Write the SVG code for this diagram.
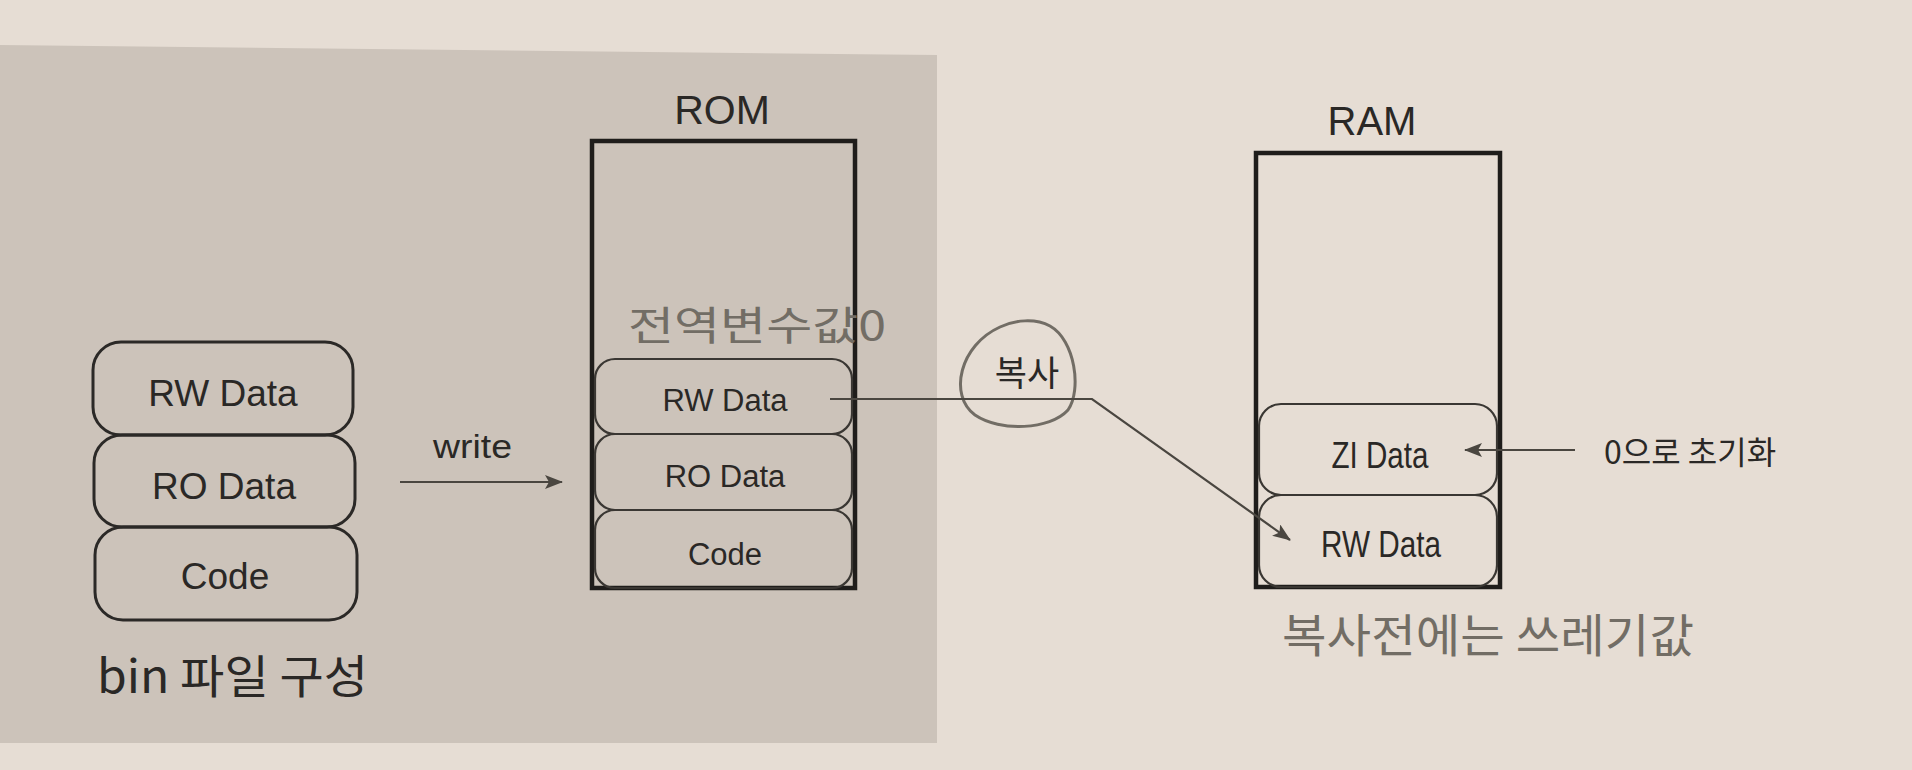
<svg xmlns="http://www.w3.org/2000/svg" width="1912" height="770" viewBox="0 0 1912 770">
  <defs>
    <style>
      .lbl { font-family: "Liberation Sans", "Noto Sans CJK KR", sans-serif; fill: #2a2826; }
      .kr { font-family: "Noto Sans CJK KR", "Noto Sans", sans-serif; fill: #2a2826; }
      .hand { font-family: "Noto Sans CJK KR", sans-serif; fill: #726d65; font-weight: 400; }
      .box { fill: none; stroke: #2b2927; stroke-width: 3; }
      .mem { fill: none; stroke: #1f1d1b; stroke-width: 4.5; }
      .seg { fill: none; stroke: #3a3733; stroke-width: 2.2; }
      .conn { fill: none; stroke: #4a4640; stroke-width: 2.2; }
    </style>
    <marker id="arr" markerWidth="18" markerHeight="14" refX="17" refY="7" orient="auto" markerUnits="userSpaceOnUse">
      <path d="M0,0 L18,7 L0,14 L4,7 Z" fill="#4a4640"/>
    </marker>
  </defs>

  <!-- page background -->
  <rect x="0" y="0" width="1912" height="770" fill="#e6ddd4"/>
  <polygon points="0,45 937,55 937,743 0,743" fill="#ccc3ba"/>

  <!-- bin file composition -->
  <g id="bin-rw">
    <rect class="box" x="93" y="342" width="260" height="93" rx="28"/>
    <text class="lbl" x="223" y="406" font-size="37" text-anchor="middle">RW Data</text>
  </g>
  <g id="bin-ro">
    <rect class="box" x="94" y="435" width="261" height="92" rx="28"/>
    <text class="lbl" x="224" y="499" font-size="37" text-anchor="middle">RO Data</text>
  </g>
  <g id="bin-code">
    <rect class="box" x="95" y="527" width="262" height="93" rx="28"/>
    <text class="lbl" x="225" y="589" font-size="37" text-anchor="middle">Code</text>
  </g>
  <g id="bin-label">
    <text class="kr" x="97" y="693" font-size="46" textLength="271" lengthAdjust="spacingAndGlyphs">bin 파일 구성</text>
  </g>

  <!-- ROM -->
  <g id="rom">
    <text class="lbl" x="722" y="124" font-size="41" text-anchor="middle">ROM</text>
    <rect class="mem" x="592" y="141" width="263" height="447"/>
    <rect class="seg" x="595" y="359" width="257" height="75" rx="20"/>
    <rect class="seg" x="595" y="434" width="257" height="76" rx="20"/>
    <rect class="seg" x="595" y="510" width="257" height="78" rx="20"/>
    <text class="lbl" x="725" y="411" font-size="31" text-anchor="middle">RW Data</text>
    <text class="lbl" x="725" y="487" font-size="31" text-anchor="middle">RO Data</text>
    <text class="lbl" x="725" y="565" font-size="31" text-anchor="middle">Code</text>
    <text class="hand" x="628" y="340" font-size="40" textLength="258" lengthAdjust="spacingAndGlyphs">전역변수값0</text>
  </g>

  <!-- RAM -->
  <g id="ram">
    <text class="lbl" x="1372" y="135" font-size="40" text-anchor="middle">RAM</text>
    <rect class="mem" x="1256" y="153" width="244" height="434"/>
    <rect class="seg" x="1259" y="404" width="238" height="91" rx="22"/>
    <rect class="seg" x="1259" y="495" width="238" height="92" rx="22"/>
    <text class="lbl" x="1380" y="468" font-size="36" text-anchor="middle" textLength="97" lengthAdjust="spacingAndGlyphs">ZI Data</text>
    <text class="lbl" x="1381" y="557" font-size="36" text-anchor="middle" textLength="120" lengthAdjust="spacingAndGlyphs">RW Data</text>
    <text class="hand" x="1282" y="652" font-size="46" textLength="412" lengthAdjust="spacingAndGlyphs">복사전에는 쓰레기값</text>
  </g>

  <g id="zero-init">
    <text class="kr" x="1604" y="464" font-size="32">0으로 초기화</text>
  </g>

  <g id="copy-label">
    <path d="M1000,327 C960,345 948,395 975,415 C1000,432 1050,430 1068,410 C1082,390 1075,340 1050,326 C1035,318 1015,320 1000,327 Z" fill="none" stroke="#726d65" stroke-width="3"/>
    <text class="kr" x="1027" y="386" font-size="35" text-anchor="middle">복사</text>
  </g>

  <!-- connectors -->
  <g id="connectors">
    <line class="conn" x1="400" y1="482" x2="562" y2="482" marker-end="url(#arr)"/>
    <text class="lbl" x="433" y="458" font-size="34" textLength="79" lengthAdjust="spacingAndGlyphs">write</text>
    <polyline class="conn" points="830,399 1092,399 1290,540" marker-end="url(#arr)"/>
    <line class="conn" x1="1575" y1="450" x2="1465" y2="450" marker-end="url(#arr)"/>
  </g>
</svg>
